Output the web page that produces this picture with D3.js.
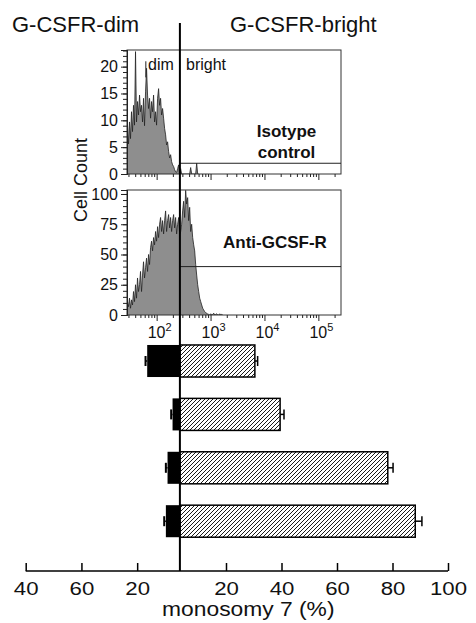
<!DOCTYPE html>
<html><head><meta charset="utf-8">
<script src="https://cdn.jsdelivr.net/npm/d3@7"></script>
<style>body{margin:0;background:#fff} svg{display:block} text{font-family:"Liberation Sans",Arial,Helvetica,sans-serif;fill:#111}</style>
</head><body><svg id="c" width="476" height="623"></svg>
<script>
// ---------- data ----------
const categories = ["Case 1", "Case 2", "Case 3", "Case 4"];
const dimValues = [16.4, 7.3, 9.1, 9.7];
const dimErrors = [0.6, 0.5, 0.6, 0.6];
const brightValues = [30.4, 39.5, 78.3, 88.2];
const brightErrors = [1.0, 1.4, 1.9, 2.4];
const rightTicks = [20, 40, 60, 80, 100];
const leftTickValues = [60, 40, 20];
const leftTickLabels = ["40", "60", "20"];

const histStartLog = 1.45;   // log10 of first bin edge
const histBinLog = 0.0186;   // bin width in log10 units
const isotypeCounts = [9.1,5.6,9.7,6.6,11.6,7.9,12.8,9.1,22.8,9.7,13.5,11,14.7,11.6,12.8,9.7,14.1,9,15.3,19.7,
  14.7,12.2,14.1,10.4,13.5,11.6,14.7,9.7,11.6,9.1,14.1,15.9,12.8,14.1,11,12.2,10.4,8.5,7.3,5.4,
  6,4.2,3,3.6,2.3,1.7,1.4,0.8,0.4,0.3,1,1.7,0,1,0,0,0,0,0,0,0,0,0,1.2,0,0,0,0,0,2,0,0];
const antiCounts = [11.1,6.9,13.9,5.6,12.5,8.3,19.4,11.1,25,13.9,30.6,19.4,25,36,19.4,33,44,30.6,39,47,
  36,50,41.7,55.6,61,53,64,58,69,61,73,64,75,80.6,69,78,67,78,86,69,
  78,83,72,80.6,69,78,83,72,80.6,67,75,80.6,67,69,75,86,94,80.6,103,91.7,
  97,78,89,69,75,64,58,53,41.7,33,25,19.4,13.9,11.1,8.3,5.6,4.2,2.8,1.9,1.4,
  0.8,0.5,0,1,0,0.5,1.5,0,0.5,1,0,0,1,0,0.5,0];
const isoTicks = [0, 5, 10, 15, 20];
const antiTicks = [0, 25, 50, 75, 100];
const decadeExps = [2, 3, 4, 5];
const gateValue = 270;
const isoMarker = 2, antiMarker = 40;
const dimMarkerValue = 63;

// ---------- setup ----------
const svg = d3.select("#c");
const defs = svg.append("defs");
const pat = defs.append("pattern").attr("id", "hatch").attr("patternUnits", "userSpaceOnUse")
  .attr("width", 4).attr("height", 4);
pat.append("rect").attr("width", 4).attr("height", 4).attr("fill", "#fff");
pat.append("path").attr("d", "M-1,1 l2,-2 M0,4 l4,-4 M3,5 l2,-2").attr("stroke", "#000").attr("stroke-width", 0.9);

const xLog = d3.scaleLog().domain([Math.pow(10, 1.45), Math.pow(10, 5.42)]).range([127, 341]);
const centerX = xLog(gateValue);

// ---------- titles ----------
svg.append("text").attr("x", 12).attr("y", 32).attr("font-size", 22).text("G-CSFR-dim");
svg.append("text").attr("x", 230).attr("y", 32).attr("font-size", 22).text("G-CSFR-bright");

// ---------- histogram panels ----------
function panel(top, bottom, ymax, counts, ticks, minorStep, markerVal, showXLabels, clipId) {
  const y = d3.scaleLinear().domain([0, ymax]).range([bottom, top]);
  const g = svg.append("g");
  defs.append("clipPath").attr("id", clipId).append("rect")
    .attr("x", 127).attr("y", top).attr("width", 214).attr("height", bottom - top);
  const pts = counts.map((c, i) => ({ v: Math.pow(10, histStartLog + histBinLog * (i + 0.5)), c }));
  const area = d3.area().x(d => xLog(d.v)).y0(y(0)).y1(d => y(d.c));
  const line = d3.line().x(d => xLog(d.v)).y(d => y(d.c));
  const hg = g.append("g").attr("clip-path", `url(#${clipId})`);
  hg.append("path").datum(pts).attr("d", area).attr("fill", "#8e8e8e");
  hg.append("path").datum(pts).attr("d", line).attr("fill", "none").attr("stroke", "#222").attr("stroke-width", 0.8);
  // frame
  g.append("rect").attr("x", 127).attr("y", top).attr("width", 214).attr("height", bottom - top)
    .attr("fill", "none").attr("stroke", "#333").attr("stroke-width", 1);
  // y axis
  const minor = d3.range(0, ymax, minorStep);
  const ya = g.append("g").attr("transform", "translate(127,0)");
  ya.call(d3.axisLeft(y).tickValues(minor).tickSize(4).tickFormat(""));
  const yb = g.append("g").attr("transform", "translate(127,0)");
  yb.call(d3.axisLeft(y).tickValues(ticks).tickSize(6).tickPadding(3));
  [ya, yb].forEach(a => { a.select(".domain").attr("stroke", "#222"); a.selectAll("line").attr("stroke", "#222"); });
  yb.selectAll("text").attr("font-size", 16).attr("font-family", "Liberation Sans, Arial, sans-serif").attr("fill", "#111");
  // x axis
  const minorX = [];
  for (let e = 1; e <= 5; e++) for (let m = 2; m <= 9; m++) {
    const v = m * Math.pow(10, e);
    if (v >= xLog.domain()[0] && v <= xLog.domain()[1]) minorX.push(v);
  }
  const xa = g.append("g").attr("transform", `translate(0,${bottom})`)
    .call(d3.axisBottom(xLog).tickValues(minorX).tickSize(3).tickFormat(""));
  const xb = g.append("g").attr("transform", `translate(0,${bottom})`)
    .call(d3.axisBottom(xLog).tickValues(decadeExps.map(e => Math.pow(10, e))).tickSize(6).tickFormat(""));
  [xa, xb].forEach(a => { a.select(".domain").remove(); a.selectAll("line").attr("stroke", "#222"); });
  if (showXLabels) {
    decadeExps.forEach(e => {
      const t = g.append("text").attr("x", xLog(Math.pow(10, e)) + 3).attr("y", bottom + 23)
        .attr("text-anchor", "middle").attr("font-size", 16);
      t.append("tspan").text("10");
      t.append("tspan").attr("font-size", 11).attr("dy", -7).text(e);
    });
  }
  // bright marker
  g.append("line").attr("x1", centerX).attr("x2", 341).attr("y1", y(markerVal)).attr("y2", y(markerVal))
    .attr("stroke", "#222").attr("stroke-width", 1);
  return y;
}

const yIso = panel(50, 174, 23.1, isotypeCounts, isoTicks, 1, isoMarker, false, "clipIso");
const yAnti = panel(190, 315, 103.3, antiCounts, antiTicks, 5, antiMarker, true, "clipAnti");

// dim marker + labels
svg.append("line").attr("x1", xLog(dimMarkerValue)).attr("x2", xLog(dimMarkerValue))
  .attr("y1", yIso(21)).attr("y2", yIso(18)).attr("stroke", "#222").attr("stroke-width", 1);
svg.append("text").attr("x", 148).attr("y", 70).attr("font-size", 16).text("dim");
svg.append("text").attr("x", 186).attr("y", 70).attr("font-size", 16).text("bright");
svg.append("text").attr("x", 286.5).attr("y", 137).attr("font-size", 17).attr("font-weight", "bold")
  .attr("text-anchor", "middle").text("Isotype");
svg.append("text").attr("x", 286.5).attr("y", 158).attr("font-size", 17).attr("font-weight", "bold")
  .attr("text-anchor", "middle").text("control");
svg.append("text").attr("x", 223).attr("y", 248).attr("font-size", 17).attr("font-weight", "bold").text("Anti-GCSF-R");
svg.append("text").attr("transform", "translate(87,180) rotate(-90)").attr("text-anchor", "middle")
  .attr("font-size", 18).text("Cell Count");

// ---------- bar chart ----------
const xR = d3.scaleLinear().domain([0, 100]).range([170.5, 448]);
const xL = d3.scaleLinear().domain([0, 60]).range([192.9, 25.7]);
const yB = d3.scaleBand().domain(categories).range([334.3, 547.9]).paddingInner(0.4).paddingOuter(0.2);
const bw = yB.bandwidth();

const bars = svg.append("g");
categories.forEach((c, i) => {
  const y0 = yB(c), cy = y0 + bw / 2;
  const le = xL(dimValues[i] + dimErrors[i]);
  bars.append("line").attr("x1", xL(dimValues[i])).attr("x2", le).attr("y1", cy).attr("y2", cy)
    .attr("stroke", "#000").attr("stroke-width", 1.5);
  bars.append("line").attr("x1", le).attr("x2", le).attr("y1", cy - 5).attr("y2", cy + 5)
    .attr("stroke", "#000").attr("stroke-width", 2);
  bars.append("rect").attr("x", xL(dimValues[i])).attr("y", y0).attr("width", centerX - xL(dimValues[i]))
    .attr("height", bw).attr("fill", "#000");
  const re = xR(brightValues[i] + brightErrors[i]);
  bars.append("line").attr("x1", xR(brightValues[i])).attr("x2", re).attr("y1", cy).attr("y2", cy)
    .attr("stroke", "#000").attr("stroke-width", 1.5);
  bars.append("line").attr("x1", re).attr("x2", re).attr("y1", cy - 5).attr("y2", cy + 5)
    .attr("stroke", "#000").attr("stroke-width", 1.5);
  bars.append("rect").attr("x", centerX).attr("y", y0).attr("width", xR(brightValues[i]) - centerX)
    .attr("height", bw).attr("fill", "url(#hatch)").attr("stroke", "#000").attr("stroke-width", 1.5);
});

// ---------- bottom axis ----------
const axY = 571;
svg.append("line").attr("x1", xL(60)).attr("x2", xR(100)).attr("y1", axY).attr("y2", axY)
  .attr("stroke", "#000").attr("stroke-width", 1.5);
const ar = svg.append("g").attr("transform", `translate(0,${axY})`)
  .call(d3.axisBottom(xR).tickValues(rightTicks).tickSize(-8).tickPadding(10.5));
const al = svg.append("g").attr("transform", `translate(0,${axY})`)
  .call(d3.axisBottom(xL).tickValues(leftTickValues).tickSize(-8).tickPadding(10.5)
    .tickFormat((d, i) => leftTickLabels[i]));
[ar, al].forEach(a => {
  a.select(".domain").remove();
  a.selectAll("line").attr("stroke", "#000").attr("stroke-width", 1.5);
  a.selectAll("text").attr("font-size", 19).attr("font-family", "Liberation Sans, Arial, sans-serif")
    .attr("fill", "#111").attr("transform", "scale(1.17,1)");
});
svg.append("text").attr("transform", "translate(248.3,616) scale(1.17,1)").attr("text-anchor", "middle")
  .attr("font-size", 19.5).text("monosomy 7 (%)");

// ---------- center line ----------
svg.append("line").attr("x1", centerX).attr("x2", centerX).attr("y1", 23).attr("y2", axY)
  .attr("stroke", "#000").attr("stroke-width", 2);
</script></body></html>
